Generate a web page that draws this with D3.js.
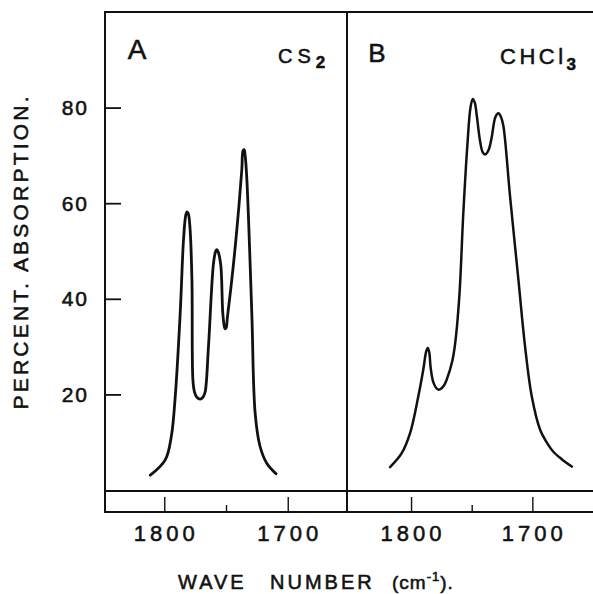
<!DOCTYPE html>
<html><head><meta charset="utf-8">
<script src="https://cdn.jsdelivr.net/npm/d3@7"></script>
<style>
html,body{margin:0;padding:0;background:#fff;}
svg text{font-family:"Liberation Sans",Arial,sans-serif;fill:#111;stroke:#111;stroke-width:0.55px;}
</style></head>
<body>
<svg id="chart" width="593" height="594"></svg>
<script>
// ---- data ----
const waveA = [1811.3,1799.2,1794.3,1791.1,1787.1,1784.4,1782.6,1781.6,1780.5,1779.2,1777.6,1776.8,1775.5,1773.6,1770.9,1768.5,1766.9,1764.2,1760.1,1758.3,1757.4,1756.3,1754.2,1752.6,1751.2,1750.7,1749.8,1748.8,1745.3,1741.2,1737.2,1736.2,1735.3,1734.5,1733.1,1729.1,1726.4,1722.4,1717,1709.5];
const absA  = [3.1,6.3,11.2,19.6,37,52.4,57.5,58.2,57.8,55,44,23,20.5,19.4,19,19.5,20.5,30,47.5,50,50.3,49.8,47,37,34,33.7,34,36.3,44,54.5,67,71,71.2,70,65,37,16.1,9.1,5.6,3.4];
const waveB = [1817.3,1807.7,1800.8,1794,1789.9,1787.5,1786.2,1785,1783.8,1781.6,1778.8,1776.6,1773,1770.6,1766,1763.7,1760.2,1756.9,1753.6,1751,1749.1,1747.4,1745.8,1743.1,1741,1738.9,1736,1733.5,1730.5,1728,1725.8,1723.9,1718.4,1711.5,1706,1700.5,1693.6,1687,1682.7,1676,1667.5];
const absB  = [4.8,7.7,11.9,19.6,25.2,29,29.7,28.8,25.5,22.5,21.2,21,21.8,23.1,27,30.5,40.5,58,72,80,81.8,81,78.3,73,70.7,70.2,71.2,73.8,78,78.8,78,76.2,61.5,44,30,19.6,12.6,9.5,8,6.5,4.9];
const yTicks = [20,40,60,80];
const xMajorTicks = [1800,1700];
const xMinorTicks = [1750];
const panelLetters = ["A","B"];
const solvents = [["CS","2"],["CHCl","3"]];

// ---- layout ----
const svg = d3.select("#chart");
const topY = 12, baseY = 490, bottomY = 512;
const y = d3.scaleLinear().domain([0,100]).range([baseY, topY]);
const xA = d3.scaleLinear().domain([1848,1652]).range([105,347]);
const xB = d3.scaleLinear().domain([1852.8,1650]).range([347,593]);

const ink = "#111";
// frame
const frame = svg.append("g").attr("stroke", ink).attr("stroke-width", 2).attr("fill","none");
frame.append("line").attr("x1",104).attr("x2",593).attr("y1",topY).attr("y2",topY);
frame.append("line").attr("x1",105).attr("x2",105).attr("y1",topY-1).attr("y2",bottomY+1);
frame.append("line").attr("x1",347).attr("x2",347).attr("y1",topY).attr("y2",bottomY+1);
frame.append("line").attr("x1",105).attr("x2",593).attr("y1",y(0)+1).attr("y2",y(0)+1);
frame.append("line").attr("x1",104).attr("x2",593).attr("y1",bottomY).attr("y2",bottomY);

// y axis (ticks inward)
const yAxis = d3.axisRight(y).tickValues(yTicks).tickSize(16).tickFormat("");
const gy = svg.append("g").attr("transform","translate(105,0)").call(yAxis);
gy.select(".domain").remove();
gy.selectAll(".tick line").attr("stroke",ink).attr("stroke-width",1.8);
svg.append("g").selectAll("text").data(yTicks).join("text")
  .attr("x",89).attr("y",d=>y(d)+7.5).attr("text-anchor","end")
  .attr("font-size",21).attr("letter-spacing",2).text(d=>d);

// x axes
[xA, xB].forEach((xs)=>{
  const major = d3.axisTop(xs).tickValues(xMajorTicks).tickSize(15).tickFormat("");
  const minor = d3.axisTop(xs).tickValues(xMinorTicks).tickSize(7).tickFormat("");
  const g1 = svg.append("g").attr("transform",`translate(0,${bottomY})`).call(major);
  const g2 = svg.append("g").attr("transform",`translate(0,${bottomY})`).call(minor);
  [g1,g2].forEach(g=>{g.select(".domain").remove(); g.selectAll(".tick line").attr("stroke",ink).attr("stroke-width",1.4);});
  svg.append("g").selectAll("text").data(xMajorTicks).join("text")
    .attr("x",d=>xs(d)+2).attr("y",541).attr("text-anchor","middle")
    .attr("font-size",22).attr("letter-spacing",4).text(d=>d);
});

// curves
const line = (xs)=>d3.line().x(d=>xs(d[0])).y(d=>y(d[1])).curve(d3.curveCatmullRom.alpha(0.5));
svg.append("path").datum(d3.zip(waveA,absA)).attr("d",line(xA))
  .attr("fill","none").attr("stroke",ink).attr("stroke-width",2.8).attr("stroke-linejoin","round").attr("stroke-linecap","round");
svg.append("path").datum(d3.zip(waveB,absB)).attr("d",line(xB))
  .attr("fill","none").attr("stroke",ink).attr("stroke-width",2.5).attr("stroke-linejoin","round").attr("stroke-linecap","round");

// panel labels
svg.append("text").attr("x",137).attr("y",59).attr("text-anchor","middle").attr("font-size",28).text(panelLetters[0]);
svg.append("text").attr("x",377).attr("y",62).attr("text-anchor","middle").attr("font-size",26).text(panelLetters[1]);
const s1 = svg.append("text").attr("x",278).attr("y",63).attr("font-size",20).attr("letter-spacing",5);
s1.append("tspan").text(solvents[0][0]);
s1.append("tspan").attr("dy",5).attr("font-size",17).attr("font-weight","bold").text(solvents[0][1]);
const s2 = svg.append("text").attr("x",500).attr("y",64).attr("font-size",22).attr("letter-spacing",3.5);
s2.append("tspan").text(solvents[1][0]);
s2.append("tspan").attr("dy",6).attr("font-size",17).attr("font-weight","bold").text(solvents[1][1]);

// axis titles
svg.append("text").attr("transform","translate(28,253) rotate(-90)").attr("text-anchor","middle")
  .attr("font-size",21).attr("textLength",313).attr("lengthAdjust","spacing").text("PERCENT. ABSORPTION.");
const xt = svg.append("g").attr("font-size",20);
xt.append("text").attr("x",178).attr("y",589).attr("letter-spacing",3).text("WAVE");
xt.append("text").attr("x",270).attr("y",589).attr("letter-spacing",3).text("NUMBER");
const cm = xt.append("text").attr("x",392).attr("y",589).attr("font-size",19).attr("letter-spacing",1);
cm.append("tspan").text("(cm");
cm.append("tspan").attr("dy",-8).attr("font-size",13).text("-1");
cm.append("tspan").attr("dy",8).text(").");
</script>
</body></html>
